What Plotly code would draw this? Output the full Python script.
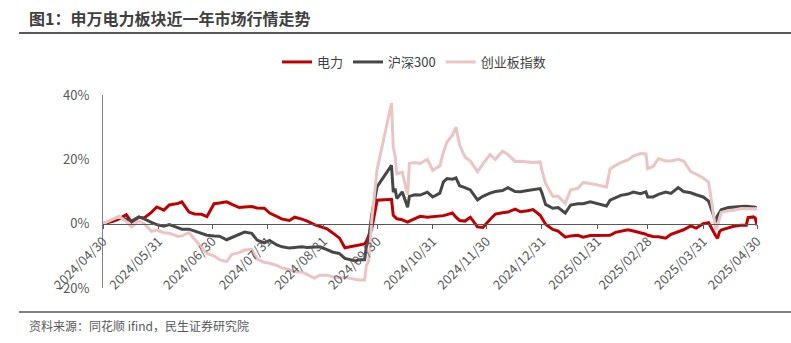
import plotly.graph_objects as go

# Trading-day samples (cumulative return since 2024-04-30, %)
dates = [
    "2024-04-30", "2024-05-06", "2024-05-09", "2024-05-13", "2024-05-16", "2024-05-20",
    "2024-05-23", "2024-05-27", "2024-05-30", "2024-06-03", "2024-06-06", "2024-06-11",
    "2024-06-13", "2024-06-17", "2024-06-20", "2024-06-24", "2024-06-27", "2024-07-01",
    "2024-07-04", "2024-07-08", "2024-07-11", "2024-07-15", "2024-07-18", "2024-07-22",
    "2024-07-25", "2024-07-29", "2024-08-01", "2024-08-05", "2024-08-08", "2024-08-12",
    "2024-08-15", "2024-08-19", "2024-08-22", "2024-08-26", "2024-08-29", "2024-09-02",
    "2024-09-05", "2024-09-09", "2024-09-12", "2024-09-18", "2024-09-20", "2024-09-23",
    "2024-09-24", "2024-09-25", "2024-09-26", "2024-09-27", "2024-09-30", "2024-10-08",
    "2024-10-09", "2024-10-10", "2024-10-11", "2024-10-14", "2024-10-17", "2024-10-18",
    "2024-10-21", "2024-10-24", "2024-10-28", "2024-10-31", "2024-11-04", "2024-11-06",
    "2024-11-08", "2024-11-11", "2024-11-13", "2024-11-15", "2024-11-18", "2024-11-21",
    "2024-11-25", "2024-11-28", "2024-12-02", "2024-12-05", "2024-12-09", "2024-12-12",
    "2024-12-16", "2024-12-19", "2024-12-23", "2024-12-26", "2024-12-30", "2024-12-31",
    "2025-01-02", "2025-01-06", "2025-01-09", "2025-01-13", "2025-01-16", "2025-01-20",
    "2025-01-23", "2025-01-27", "2025-02-05", "2025-02-07", "2025-02-10", "2025-02-13",
    "2025-02-17", "2025-02-20", "2025-02-24", "2025-02-27", "2025-02-28", "2025-03-03",
    "2025-03-06", "2025-03-10", "2025-03-13", "2025-03-17", "2025-03-20", "2025-03-24",
    "2025-03-27", "2025-03-31", "2025-04-03", "2025-04-07", "2025-04-08", "2025-04-09",
    "2025-04-10", "2025-04-14", "2025-04-17", "2025-04-21", "2025-04-24", "2025-04-25",
    "2025-04-28", "2025-04-29", "2025-04-30",
]

power = [
    0.0, 0.8, 1.5, 2.8, 0.5, 2.0, 1.8, 3.5, 5.2, 4.2, 5.8, 6.3,
    6.8, 3.6, 3.0, 2.9, 2.2, 6.2, 6.4, 6.8, 6.0, 5.0, 5.2, 5.3,
    4.9, 4.8, 3.3, 2.1, 1.4, 1.0, 2.0, 1.4, 0.8, -0.3, -0.9, -1.6,
    -2.8, -4.5, -7.5, -6.9, -6.8, -6.3, -5.5, -4.0, -3.0, -1.5, 7.3, 7.6,
    2.6, 2.0, 1.5, 1.2, 0.5, 0.8, 1.5, 2.3, 2.0, 2.2, 2.3, 2.5,
    2.8, 3.3, 2.0, 1.0, 0.8, 2.0, -1.0, -1.2, 1.3, 3.0, 3.4, 3.6,
    4.5, 3.7, 4.0, 4.4, 2.6, 1.5, -0.2, -1.8, -2.3, -4.2, -3.8, -3.6,
    -4.2, -3.7, -3.8, -3.6, -2.7, -2.4, -1.9, -2.3, -2.8, -3.3, -3.6, -4.0,
    -4.1, -4.5, -3.3, -2.5, -1.9, -0.7, -1.4, 0.0, 0.3, -3.8, -4.6, -2.6,
    -2.0, -1.3, -0.8, -0.5, -0.5, 1.9, 2.1, 1.8, -0.5,
]

hs300 = [
    0.0, 1.3, 2.0, 1.4, 0.8, 2.1, 1.5, 0.4, -0.3, -0.8, -0.3, -1.3,
    -1.7, -1.7, -2.2, -3.0, -3.6, -3.8, -3.9, -5.0, -4.3, -3.5, -2.6, -3.0,
    -5.1, -6.0, -5.2, -6.6, -7.2, -7.6, -7.5, -7.2, -7.4, -7.2, -7.2, -8.1,
    -8.8, -9.3, -10.8, -11.6, -11.2, -11.2, -7.0, -5.8, -1.9, 2.8, 11.5, 18.1,
    9.8, 10.9, 7.8, 9.9, 5.1, 8.5, 9.0, 8.9, 9.8, 8.3, 9.5, 13.0,
    14.0, 13.8, 14.2, 11.8, 11.2, 10.5, 7.4, 8.5, 9.5, 10.0, 10.3, 11.2,
    10.0, 9.9, 10.3, 10.5, 10.9, 9.5, 6.0, 4.8, 5.0, 3.3, 5.8, 6.2,
    6.2, 6.8, 5.5, 7.3, 8.0, 8.8, 9.2, 9.8, 9.3, 9.9, 8.3, 8.3,
    9.1, 9.8, 9.4, 11.2, 10.0, 9.6, 9.0, 8.3, 7.0, 0.5, 2.5, 3.5,
    4.3, 5.0, 5.2, 5.3, 5.4, 5.4, 5.2, 5.1, 4.8,
]

chinext = [
    0.0, 1.6, 2.3, 0.6, -1.0, 0.8, 0.0, -2.4, -2.0, -2.8, -3.0, -4.0,
    -3.8, -2.8, -4.8, -7.2, -9.3, -10.0, -11.2, -11.8, -9.5, -9.0, -8.2, -8.0,
    -11.0, -12.0, -12.3, -13.0, -13.8, -14.2, -15.0, -15.0, -15.8, -16.9, -16.0, -16.0,
    -16.5, -16.8, -16.7, -17.4, -17.5, -17.5, -12.9, -12.0, -8.1, 1.3, 16.9, 37.5,
    23.8, 21.2, 15.5, 16.0, 9.0, 18.7, 19.0, 18.7, 20.0, 16.6, 18.0, 22.3,
    25.4, 27.5, 30.0, 24.5, 20.7, 19.5, 16.2, 18.5, 21.5, 20.0, 22.5, 21.5,
    19.3, 19.4, 19.2, 19.0, 19.2, 16.5, 12.5, 8.5, 8.5, 6.3, 10.5, 11.0,
    12.8, 12.5, 11.4, 17.0, 18.1, 19.0, 19.8, 21.0, 21.8, 21.7, 17.1, 17.8,
    20.2, 19.5, 19.5, 20.0, 19.5, 16.2, 15.4, 14.2, 12.9, -2.0, -0.5, 1.5,
    3.5, 4.0, 4.2, 4.7, 4.7, 4.6, 4.5, 4.6, 4.8,
]

tick_dates = [
    "2024-04-30", "2024-05-31", "2024-06-30", "2024-07-31", "2024-08-31", "2024-09-30",
    "2024-10-31", "2024-11-30", "2024-12-31", "2025-01-31", "2025-02-28", "2025-03-31",
    "2025-04-30",
]
tick_labels = [d.replace("-", "/") for d in tick_dates]

series_names = ["电力", "沪深300", "创业板指数"]
series_colors = ["#C00000", "#474747", "#EBC4C4"]

title_text = "图1：申万电力板块近一年市场行情走势"
source_text = "资料来源：同花顺 ifind，民生证券研究院"

# ---- page geometry (pixels) ----
W, H = 791, 343
L, R, T, B = 103, 34, 95, 55
PW, PH = W - L - R, H - T - B


def fx(p):
    return (p - L) / PW


def fy(p):
    return (H - B - p) / PH


FONT = "Noto Sans CJK SC"
GREY_TXT = "#595959"

fig = go.Figure()
for name, vals, col in zip(series_names, [power, hs300, chinext], series_colors):
    fig.add_trace(go.Scatter(
        x=dates, y=vals, mode="lines", name=name,
        line=dict(color=col, width=3),
    ))

y_min, y_max = -20, 40

fig.update_layout(
    width=W, height=H,
    margin=dict(l=L, r=R, t=T, b=B, pad=0),
    paper_bgcolor="white", plot_bgcolor="white",
    font=dict(family=FONT, size=13, color=GREY_TXT),
    showlegend=True,
    legend=dict(
        orientation="h", x=fx(414), y=fy(62), xanchor="center", yanchor="middle",
        font=dict(size=13, color="#404040"), itemwidth=30,
        bgcolor="rgba(0,0,0,0)",
    ),
    xaxis=dict(
        type="date",
        range=[tick_dates[0], tick_dates[-1]],
        tickvals=tick_dates, ticktext=tick_labels,
        tickangle=-45,
        showgrid=False, zeroline=False,
        showline=True, linecolor="#595959", linewidth=1,
        ticks="outside", ticklen=4, tickcolor="#595959",
        anchor="free", position=(0 - y_min) / (y_max - y_min),
        tickfont=dict(size=13, color=GREY_TXT),
    ),
    yaxis=dict(
        range=[y_min, y_max], dtick=20, ticksuffix="%",
        showgrid=False, zeroline=False,
        showline=True, linecolor="#808080", linewidth=1,
        ticks="", ticklabelstandoff=10,
        tickfont=dict(size=13, color=GREY_TXT),
    ),
    annotations=[
        dict(text="<b>" + title_text + "</b>", xref="paper", yref="paper",
             x=fx(27), y=fy(18), xanchor="left", yanchor="middle", showarrow=False,
             font=dict(size=16, color="#404040", family=FONT)),
        dict(text=source_text, xref="paper", yref="paper",
             x=fx(27), y=fy(325), xanchor="left", yanchor="middle", showarrow=False,
             font=dict(size=12, color=GREY_TXT, family=FONT)),
    ],
    shapes=[
        dict(type="line", xref="paper", yref="paper", x0=fx(19), x1=fx(791),
             y0=fy(33), y1=fy(33), line=dict(color="#595959", width=2)),
        dict(type="line", xref="paper", yref="paper", x0=fx(19), x1=fx(791),
             y0=fy(312), y1=fy(312), line=dict(color="#595959", width=1.5)),
    ],
)

fig.write_html("out.html")
